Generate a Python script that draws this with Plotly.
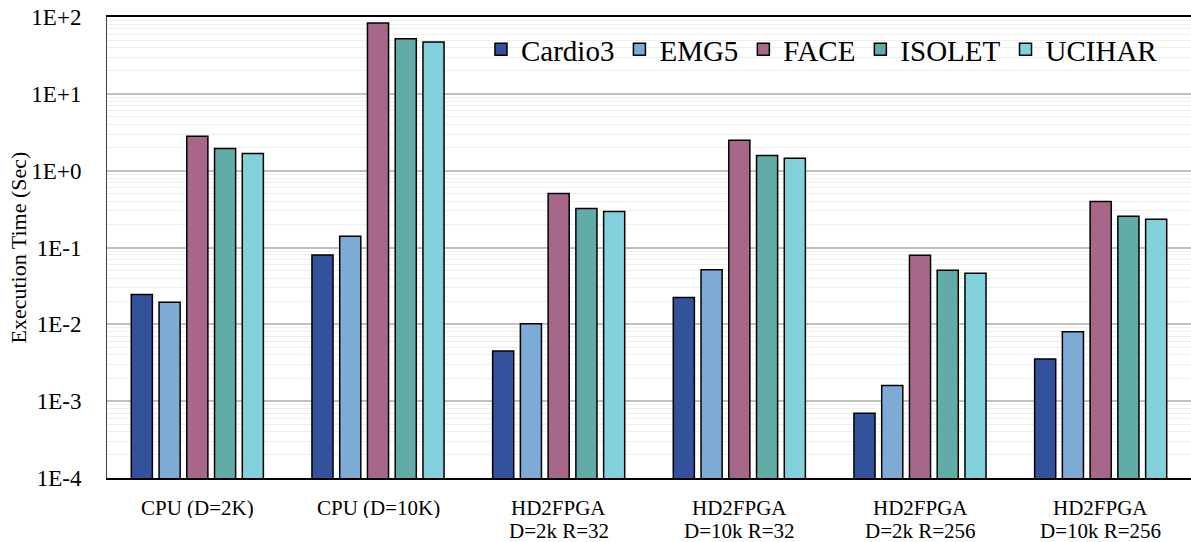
import plotly.graph_objects as go

# ---- data ----
categories = ["CPU (D=2K)", "CPU (D=10K)", "HD2FPGA D=2k R=32",
              "HD2FPGA D=10k R=32", "HD2FPGA D=2k R=256", "HD2FPGA D=10k R=256"]
label_line1 = ["CPU (D=2K)", "CPU (D=10K)", "HD2FPGA", "HD2FPGA", "HD2FPGA", "HD2FPGA"]
label_line2 = ["", "", "D=2k R=32", "D=10k R=32", "D=2k R=256", "D=10k R=256"]

series_names = ["Cardio3", "EMG5", "FACE", "ISOLET", "UCIHAR"]
cardio3 = [0.0244, 0.080, 0.00449, 0.0223, 0.000697, 0.00353]
emg5 = [0.0194, 0.140, 0.0102, 0.0512, 0.0016, 0.0080]
face = [2.80, 83.5, 0.506, 2.48, 0.0794, 0.398]
isolet = [1.95, 52.0, 0.323, 1.58, 0.0506, 0.256]
ucihar = [1.67, 47.2, 0.295, 1.45, 0.0462, 0.234]

y_tickvals = [1e-4, 1e-3, 1e-2, 1e-1, 1e0, 1e1, 1e2]
y_ticktext = ["1E-4", "1E-3", "1E-2", "1E-1", "1E+0", "1E+1", "1E+2"]

colors = ["#33529c", "#7eaad6", "#a6678b", "#62aca8", "#83d1dc"]
FONT = "Liberation Serif"

fig = go.Figure()
for name, vals, col in zip(series_names, [cardio3, emg5, face, isolet, ucihar], colors):
    fig.add_trace(go.Bar(
        name=name, x=categories, y=vals,
        marker=dict(color=col, line=dict(color="#000000", width=1.5)),
    ))

# minor gridlines at 2..9 x 10^k
minor_vals = [m * 10.0 ** k for k in range(-4, 2) for m in range(2, 10)]

fig.update_layout(
    width=1191, height=542,
    margin=dict(l=107, r=0, t=17, b=64),
    paper_bgcolor="white", plot_bgcolor="white",
    barmode="group", bargap=0.232, bargroupgap=0.24,
    font=dict(family=FONT, color="#000000", size=22),
    showlegend=True,
    legend=dict(
        orientation="h", x=0.345, xanchor="left", y=0.985, yanchor="top",
        font=dict(family=FONT, size=29, color="#000000"),
        bgcolor="rgba(0,0,0,0)", itemwidth=30, traceorder="normal",
    ),
    xaxis=dict(
        type="category", range=[-0.5, 5.5],
        showline=True, linecolor="#000000", linewidth=2, mirror=True,
        showticklabels=False, ticks="", showgrid=False, zeroline=False,
    ),
    yaxis=dict(
        type="log", range=[-4, 2],
        tickvals=y_tickvals, ticktext=y_ticktext,
        tickfont=dict(family=FONT, size=23, color="#000000"),
        ticks="outside", ticklen=20, tickcolor="rgba(0,0,0,0)",
        showline=True, linecolor="#404040", linewidth=1,
        showgrid=True, gridcolor="#c0c0c0", gridwidth=1.5,
        minor=dict(tickvals=minor_vals, showgrid=True, gridcolor="#eeeeee", gridwidth=1, ticks=""),
        zeroline=False,
    ),
)

# category labels (two lines, tight spacing)
for cat, l1, l2 in zip(categories, label_line1, label_line2):
    fig.add_annotation(x=cat, xref="x", y=0, yref="paper", text=l1, showarrow=False,
                       xanchor="center", yanchor="middle", yshift=-29, height=21,
                       font=dict(family=FONT, size=21, color="#000000"))
    if l2:
        fig.add_annotation(x=cat, xref="x", y=0, yref="paper", text=l2, showarrow=False,
                           xanchor="center", yanchor="middle", yshift=-52, height=21,
                           font=dict(family=FONT, size=21, color="#000000"))

# y-axis title
fig.add_annotation(x=0, xref="paper", y=0.5, yref="paper", text="Execution Time (Sec)",
                   textangle=-90, showarrow=False, xanchor="center", yanchor="middle",
                   xshift=-89, font=dict(family=FONT, size=22, color="#000000"))

fig.write_html("out.html")
